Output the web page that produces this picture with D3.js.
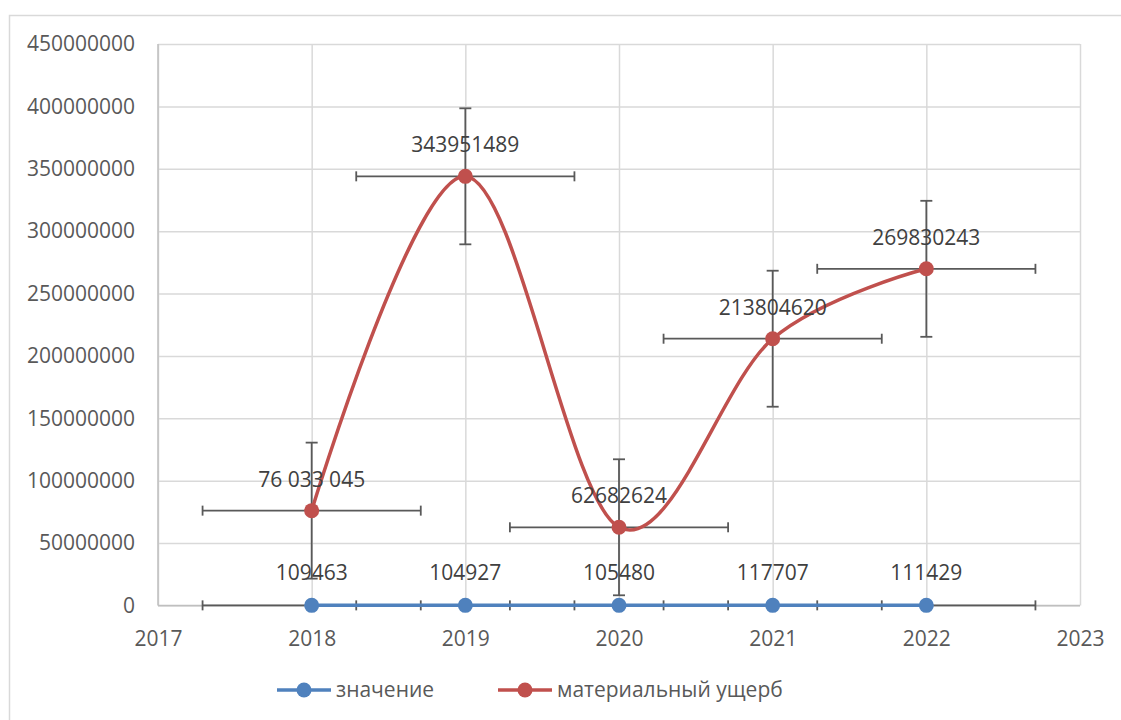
<!DOCTYPE html>
<html>
<head>
<meta charset="utf-8">
<script src="https://cdn.jsdelivr.net/npm/d3@7"></script>
<style>
  body { margin: 0; background: #fff; }
  text { font-family: "Open Sans", sans-serif; }
</style>
</head>
<body>
<script>
// data
var years = [2018, 2019, 2020, 2021, 2022];
var znachenie = [109463, 104927, 105480, 117707, 111429];
var ushcherb = [76033045, 343951489, 62682624, 213804620, 269830243];
var ushcherbLabels = ["76 033 045", "343951489", "62682624", "213804620", "269830243"];
var seriesNames = ["значение", "материальный ущерб"];
var xErr = 0.71;
var yErr = 54500000;

const WIDTH = 1121;
const HEIGHT = 720;
const LEFT = 158, RIGHT = 1080, TOP = 44, BOTTOM = 605.5;
const BLUE = "#4f81bd", RED = "#c0504d", ERR = "#595959";
const FS = "21px";

var xScale = d3.scaleLinear().domain([2017, 2023]).range([LEFT, RIGHT]);
var yScale = d3.scaleLinear().domain([0, 450000000]).range([BOTTOM, TOP]);

var svg = d3.select("body").append("svg")
    .attr("width", WIDTH)
    .attr("height", HEIGHT);

// outer chart border
svg.append("rect")
    .attr("x", 9.5).attr("y", 15.5)
    .attr("width", WIDTH + 20).attr("height", HEIGHT + 20)
    .attr("fill", "none").attr("stroke", "#d9d9d9").attr("stroke-width", 1.5);

// gridlines
svg.append("g")
    .attr("transform", `translate(0,${BOTTOM})`)
    .call(d3.axisBottom(xScale).ticks(6).tickSize(-(BOTTOM - TOP)).tickFormat(""))
    .call(g => g.select(".domain").remove())
    .call(g => g.selectAll("line").attr("stroke", "#d9d9d9").attr("stroke-width", 1.5));
svg.append("g")
    .attr("transform", `translate(${LEFT},0)`)
    .call(d3.axisLeft(yScale).ticks(9).tickSize(-(RIGHT - LEFT)).tickFormat(""))
    .call(g => g.select(".domain").remove())
    .call(g => g.selectAll("line").attr("stroke", "#d9d9d9").attr("stroke-width", 1.5));

// axes lines
svg.append("line")
    .attr("x1", LEFT).attr("x2", LEFT).attr("y1", TOP).attr("y2", BOTTOM)
    .attr("stroke", "#bfbfbf").attr("stroke-width", 1.5);
svg.append("line")
    .attr("x1", LEFT).attr("x2", RIGHT).attr("y1", BOTTOM).attr("y2", BOTTOM)
    .attr("stroke", "#bfbfbf").attr("stroke-width", 1.5);

// axis labels
svg.append("g")
    .attr("transform", `translate(0,${BOTTOM})`)
    .call(d3.axisBottom(xScale).ticks(6).tickSize(0).tickPadding(26).tickFormat(d3.format("d")))
    .call(g => g.select(".domain").remove())
    .call(g => g.selectAll("text").attr("fill", "#595959").attr("font-size", FS)
        .attr("font-family", "'Open Sans', sans-serif"));
svg.append("g")
    .attr("transform", `translate(${LEFT},0)`)
    .call(d3.axisLeft(yScale).ticks(9).tickSize(0).tickPadding(23).tickFormat(d3.format("d")))
    .call(g => g.select(".domain").remove())
    .call(g => g.selectAll("text").attr("fill", "#595959").attr("font-size", FS)
        .attr("font-family", "'Open Sans', sans-serif"));

var blue = years.map((y, i) => [y, znachenie[i]]);
var red = years.map((y, i) => [y, ushcherb[i]]);

// error bars
var err = svg.append("g").attr("stroke", ERR).attr("stroke-width", 1.8).attr("fill", "none");
function xBars(data) {
    data.forEach(d => {
        var y = yScale(d[1]);
        var x0 = xScale(d[0] - xErr), x1 = xScale(d[0] + xErr);
        err.append("line").attr("x1", x0).attr("x2", x1).attr("y1", y).attr("y2", y);
        err.append("line").attr("x1", x0).attr("x2", x0).attr("y1", y - 5).attr("y2", y + 5);
        err.append("line").attr("x1", x1).attr("x2", x1).attr("y1", y - 5).attr("y2", y + 5);
    });
}
function yBars(data) {
    data.forEach(d => {
        var x = xScale(d[0]);
        var y0 = yScale(d[1] + yErr), y1 = yScale(d[1] - yErr);
        err.append("line").attr("x1", x).attr("x2", x).attr("y1", y0).attr("y2", y1);
        err.append("line").attr("x1", x - 6).attr("x2", x + 6).attr("y1", y0).attr("y2", y0);
        err.append("line").attr("x1", x - 6).attr("x2", x + 6).attr("y1", y1).attr("y2", y1);
    });
}
xBars(blue);
xBars(red);
yBars(red);

// smooth lines
var line = d3.line()
    .x(d => xScale(d[0]))
    .y(d => yScale(d[1]))
    .curve(d3.curveCardinal.tension(0));

svg.append("path").datum(blue)
    .attr("d", line).attr("fill", "none").attr("stroke", BLUE).attr("stroke-width", 3.5);
svg.append("path").datum(red)
    .attr("d", line).attr("fill", "none").attr("stroke", RED).attr("stroke-width", 3.5);

// markers
svg.selectAll("circle.blue").data(blue).enter().append("circle")
    .attr("cx", d => xScale(d[0])).attr("cy", d => yScale(d[1]))
    .attr("r", 7.5).attr("fill", BLUE);
svg.selectAll("circle.red").data(red).enter().append("circle")
    .attr("cx", d => xScale(d[0])).attr("cy", d => yScale(d[1]))
    .attr("r", 7.5).attr("fill", RED);

// data labels
svg.selectAll("text.lb").data(blue).enter().append("text")
    .attr("x", d => xScale(d[0])).attr("y", d => yScale(d[1]) - 25)
    .attr("text-anchor", "middle").attr("font-size", FS).attr("fill", "#404040")
    .text(d => d[1]);
svg.selectAll("text.lr").data(red).enter().append("text")
    .attr("x", d => xScale(d[0])).attr("y", d => yScale(d[1]) - 24)
    .attr("text-anchor", "middle").attr("font-size", FS).attr("fill", "#404040")
    .text((d, i) => ushcherbLabels[i]);

// legend
var legend = svg.append("g");
var legendX = [277, 498];
var colors = [BLUE, RED];
seriesNames.forEach((name, i) => {
    var g = legend.append("g").attr("transform", `translate(${legendX[i]},690)`);
    g.append("line").attr("x1", 0).attr("x2", 54).attr("stroke", colors[i]).attr("stroke-width", 3.5);
    g.append("circle").attr("cx", 27).attr("r", 7.5).attr("fill", colors[i]);
    g.append("text").attr("x", 59).attr("y", 7).attr("font-size", FS).attr("fill", "#595959").text(name);
});
</script>
</body>
</html>
